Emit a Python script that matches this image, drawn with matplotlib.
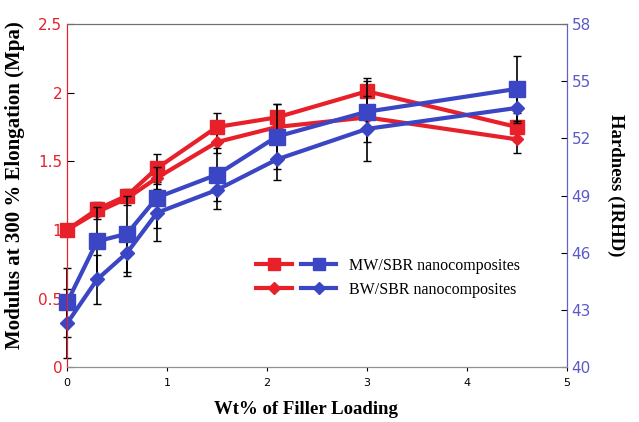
import matplotlib.pyplot as plt
from matplotlib.legend_handler import HandlerTuple
from matplotlib.lines import Line2D

# filler loading (wt%)
loading = [0, 0.3, 0.6, 0.9, 1.5, 2.1, 3.0, 4.5]

# modulus at 300 % elongation (MPa), left axis
mw_modulus = [1.00, 1.15, 1.25, 1.45, 1.75, 1.82, 2.01, 1.75]
bw_modulus = [1.00, 1.13, 1.23, 1.38, 1.64, 1.75, 1.82, 1.66]
mw_modulus_err = [0.03, 0.05, 0.05, 0.1, 0.1, 0.1, 0.1, 0.1]
bw_modulus_err = [0.03, 0.05, 0.05, 0.08, 0.08, 0.08, 0.08, 0.1]

# hardness (IRHD), right axis
mw_hardness = [43.4, 46.6, 47.0, 48.9, 50.1, 52.1, 53.4, 54.6]
bw_hardness = [42.3, 44.6, 46.0, 48.1, 49.3, 50.9, 52.5, 53.6]
mw_hardness_err = [1.8, 1.8, 2.0, 1.6, 1.4, 1.7, 1.6, 1.7]
bw_hardness_err = [1.8, 1.3, 1.2, 1.5, 1.0, 1.1, 1.7, 0.8]

red = '#e8202a'
blue = '#3a46c4'
tick_blue = '#5a5ac8'

fig = plt.figure(figsize=(6.39, 4.22), dpi=100)
ax1 = fig.add_axes([0.105, 0.130, 0.782, 0.813])
ax2 = ax1.twinx()

for y, err, m, s in [(mw_modulus, mw_modulus_err, 's', 10),
                     (bw_modulus, bw_modulus_err, 'D', 6)]:
    for art in ax1.errorbar(loading, y, yerr=err, color=red, lw=3, marker=m, ms=s,
                            ecolor='black', elinewidth=1.2, capsize=3).get_children():
        art.set_clip_on(False)
for y, err, m, s in [(mw_hardness, mw_hardness_err, 's', 11),
                     (bw_hardness, bw_hardness_err, 'D', 7)]:
    for art in ax2.errorbar(loading, y, yerr=err, color=blue, lw=3, marker=m, ms=s,
                            ecolor='black', elinewidth=1.2, capsize=3).get_children():
        art.set_clip_on(False)

ax1.set_xlim(0, 5)
ax1.set_ylim(0, 2.5)
ax2.set_ylim(40, 58)
ax1.set_xticks([0, 1, 2, 3, 4, 5])
ax1.set_yticks([0, 0.5, 1, 1.5, 2, 2.5])
ax1.set_yticklabels(['0', '0.5', '1', '1.5', '2', '2.5'])
ax2.set_yticks([40, 43, 46, 49, 52, 55, 58])

ax1.tick_params(axis='x', direction='out', length=3, labelsize=8, colors='black', pad=5)
ax1.tick_params(axis='y', direction='in', length=5, labelsize=11, labelcolor=red)
ax2.tick_params(axis='y', direction='in', length=4, labelsize=11, labelcolor=tick_blue)

for ax in (ax1, ax2):
    ax.spines['left'].set_color(red)
    ax.spines['right'].set_color('#6060c8')
    ax.spines['top'].set_color('#707070')
    ax.spines['bottom'].set_color('#909090')

ax1.set_ylabel('Modulus at 300 % Elongation (Mpa)', family='Liberation Serif',
               fontweight='bold', fontsize=15)
ax1.yaxis.set_label_coords(-0.085, 0.53)
ax2.set_ylabel('Hardness (IRHD)', family='Liberation Serif', fontweight='bold',
               fontsize=13.5, rotation=-90)
ax2.yaxis.set_label_coords(1.115, 0.53)
ax1.set_xlabel('Wt% of Filler Loading', family='Liberation Serif',
               fontweight='bold', fontsize=13.5)
ax1.xaxis.set_label_coords(0.477, -0.1)

h_mw = (Line2D([], [], color=red, lw=3, marker='s', ms=9),
        Line2D([], [], color=blue, lw=3, marker='s', ms=9))
h_bw = (Line2D([], [], color=red, lw=3, marker='D', ms=6),
        Line2D([], [], color=blue, lw=3, marker='D', ms=6))
ax2.legend([h_mw, h_bw], ['MW/SBR nanocomposites', 'BW/SBR nanocomposites'],
           handler_map={tuple: HandlerTuple(ndivide=None, pad=0.6)},
           handlelength=5, frameon=False, loc='upper left',
           bbox_to_anchor=(0.35, 0.36), prop={'family': 'Liberation Serif', 'size': 11.5})

fig.savefig('out.png', dpi=100)
